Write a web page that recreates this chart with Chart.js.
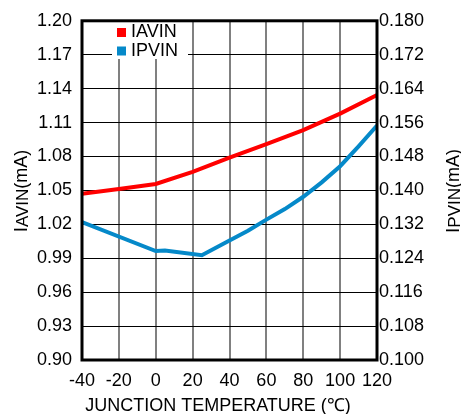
<!DOCTYPE html>
<html>
<head>
<meta charset="utf-8">
<script src="https://cdn.jsdelivr.net/npm/chart.js@4"></script>
<style>
  html, body { margin: 0; padding: 0; background: #fff; }
  #wrap { width: 461px; height: 414px; position: relative; }
</style>
</head>
<body>
<div id="wrap"><canvas id="chart"></canvas></div>
<script>
// values
const tempTicks = [-40, -20, 0, 20, 40, 60, 80, 100, 120];
const leftTicks = [0.90, 0.93, 0.96, 0.99, 1.02, 1.05, 1.08, 1.11, 1.14, 1.17, 1.20];
const rightTicks = [0.100, 0.108, 0.116, 0.124, 0.132, 0.140, 0.148, 0.156, 0.164, 0.172, 0.180];

const iavinTemps = [-40, -20, 0, 20, 40, 60, 80, 100, 120];
const iavin = [1.047, 1.0513, 1.0557, 1.0664, 1.0789, 1.0909, 1.1033, 1.1179, 1.1344];

const ipvinTemps = [-40, 0, 5, 25, 40, 50, 60, 70, 80, 90, 100, 110, 120];
const ipvin = [0.1325, 0.1257, 0.1258, 0.1247, 0.1282, 0.1305, 0.1331, 0.1356, 0.1385, 0.1419, 0.1457, 0.1504, 0.1553];

const FONT = '"Liberation Sans", Arial, sans-serif';
const RED = '#ff0000';
const BLUE = '#0589c9';

function toPoints(xs, ys) {
    return xs.map((x, i) => ({ x: x, y: ys[i] }));
}

function drawTitle(ctx, x, y, parts, rotate) {
    ctx.save();
    ctx.translate(x, y);
    if (rotate) ctx.rotate(-Math.PI / 2);
    ctx.fillStyle = '#000';
    ctx.textBaseline = 'alphabetic';
    ctx.textAlign = 'left';
    let total = 0;
    parts.forEach(p => {
        ctx.font = p.size + 'px ' + FONT;
        total += ctx.measureText(p.text).width;
    });
    let cx = -total / 2;
    parts.forEach(p => {
        ctx.font = p.size + 'px ' + FONT;
        ctx.fillText(p.text, cx, p.dy || 0);
        cx += ctx.measureText(p.text).width;
    });
    ctx.restore();
}

const decorations = {
    id: 'decorations',
    beforeDatasetsDraw(chart) {
        const ctx = chart.ctx;
        // legend box sits over the grid
        ctx.save();
        ctx.fillStyle = '#fff';
        ctx.fillRect(112, 21, 76, 38);
        const items = chart.data.datasets;
        items.forEach((ds, i) => {
            const y = 28 + i * 18.5;
            ctx.fillStyle = ds.borderColor;
            ctx.fillRect(117, y, 9, 9);
            ctx.fillStyle = '#000';
            ctx.font = '18px ' + FONT;
            ctx.textBaseline = 'alphabetic';
            ctx.fillText(ds.label, 131, y + 9);
        });
        ctx.restore();
    },
    afterDatasetsDraw(chart) {
        const ctx = chart.ctx;
        const a = chart.chartArea;
        ctx.save();
        ctx.strokeStyle = '#000';
        ctx.lineWidth = 3;
        ctx.strokeRect(a.left, a.top, a.right - a.left, a.bottom - a.top);
        ctx.restore();

        drawTitle(ctx, 27, 191, [
            { text: 'I', size: 19 },
            { text: 'AVIN', size: 17, dy: 1 },
            { text: '(mA)', size: 18 }
        ], true);
        drawTitle(ctx, 459, 191, [
            { text: 'I', size: 19 },
            { text: 'PVIN', size: 17, dy: 1 },
            { text: '(mA)', size: 18 }
        ], true);
        drawTitle(ctx, 218, 411, [
            { text: 'JUNCTION TEMPERATURE (\u2103)', size: 18 }
        ], false);
    }
};

new Chart(document.getElementById('chart'), {
    type: 'line',
    data: {
        datasets: [
            {
                label: 'IAVIN',
                data: toPoints(iavinTemps, iavin),
                borderColor: RED,
                backgroundColor: RED,
                borderWidth: 4,
                pointRadius: 0,
                yAxisID: 'y'
            },
            {
                label: 'IPVIN',
                data: toPoints(ipvinTemps, ipvin),
                borderColor: BLUE,
                backgroundColor: BLUE,
                borderWidth: 4,
                pointRadius: 0,
                yAxisID: 'y1'
            }
        ]
    },
    options: {
        responsive: true,
        maintainAspectRatio: false,
        animation: false,
        layout: { padding: { top: 19, left: 0, right: 0, bottom: 0 } },
        plugins: {
            legend: { display: false },
            tooltip: { enabled: false }
        },
        scales: {
            x: {
                type: 'linear',
                min: -40,
                max: 120,
                afterBuildTicks: s => { s.ticks = tempTicks.map(v => ({ value: v })); },
                afterFit: s => { s.height = 54; },
                grid: { color: '#808080', lineWidth: 2, drawTicks: false },
                border: { display: false },
                ticks: {
                    color: '#000',
                    padding: 10,
                    font: { family: FONT, size: 18 },
                    maxRotation: 0
                }
            },
            y: {
                position: 'left',
                min: 0.90,
                max: 1.20,
                afterBuildTicks: s => { s.ticks = leftTicks.map(v => ({ value: v })); },
                afterFit: s => { s.width = 82; },
                grid: { color: '#000', lineWidth: 1, drawTicks: false },
                border: { display: false },
                ticks: {
                    color: '#000',
                    padding: 10,
                    font: { family: FONT, size: 18 },
                    callback: v => v.toFixed(2)
                }
            },
            y1: {
                position: 'right',
                min: 0.100,
                max: 0.180,
                afterBuildTicks: s => { s.ticks = rightTicks.map(v => ({ value: v })); },
                afterFit: s => { s.width = 84; },
                grid: { drawOnChartArea: false, drawTicks: false },
                border: { display: false },
                ticks: {
                    color: '#000',
                    padding: 2,
                    font: { family: FONT, size: 18 },
                    callback: v => v.toFixed(3)
                }
            }
        }
    },
    plugins: [decorations]
});
</script>
</body>
</html>
